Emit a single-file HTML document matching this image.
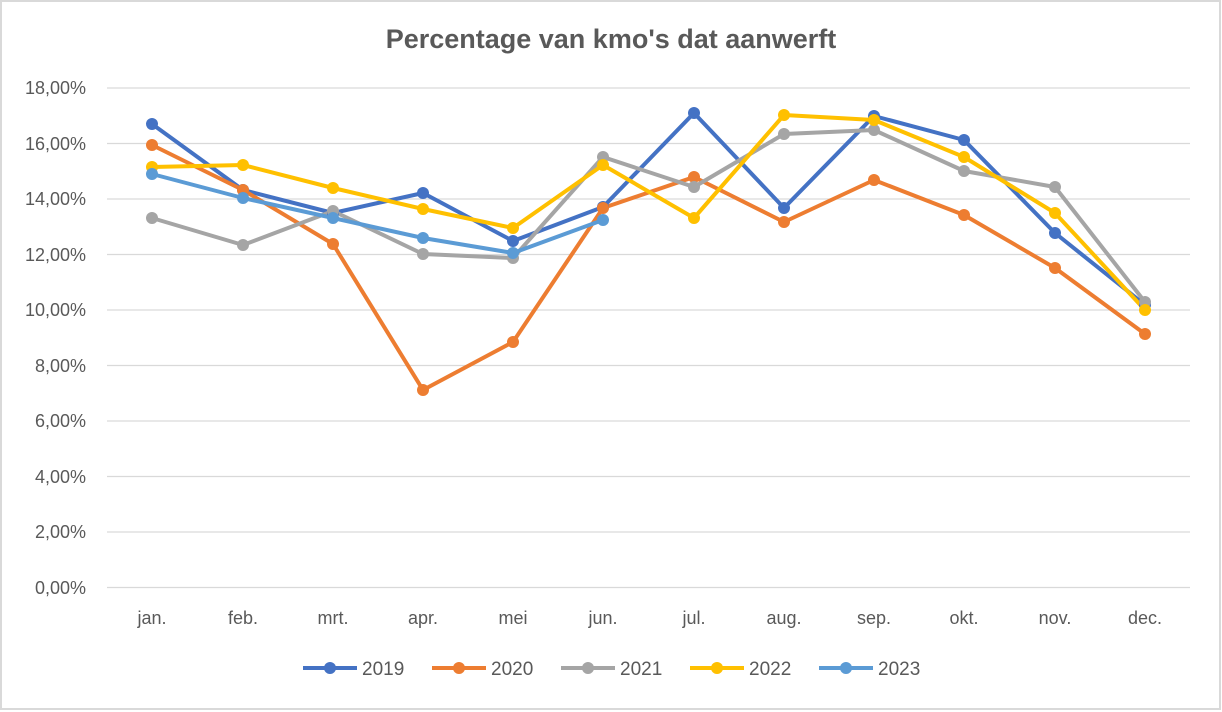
<!DOCTYPE html>
<html><head><meta charset="utf-8"><style>
html,body{margin:0;padding:0;background:#fff;}
svg{display:block;font-family:"Liberation Sans",sans-serif;}
</style></head><body>
<svg width="1222" height="712" viewBox="0 0 1222 712">
<rect x="0" y="0" width="1222" height="712" fill="#fff"/>
<rect x="1" y="1" width="1219" height="708" fill="none" stroke="#d9d9d9" stroke-width="2"/>
<text x="611" y="48" text-anchor="middle" font-size="27" font-weight="bold" fill="#595959">Percentage van kmo's dat aanwerft</text>
<g stroke="#d9d9d9" stroke-width="1.3">
<line x1="107" x2="1190" y1="88" y2="88"/><line x1="107" x2="1190" y1="143.5" y2="143.5"/>
<line x1="107" x2="1190" y1="199" y2="199"/><line x1="107" x2="1190" y1="254.5" y2="254.5"/>
<line x1="107" x2="1190" y1="310" y2="310"/><line x1="107" x2="1190" y1="365.5" y2="365.5"/>
<line x1="107" x2="1190" y1="421" y2="421"/><line x1="107" x2="1190" y1="476.5" y2="476.5"/>
<line x1="107" x2="1190" y1="532" y2="532"/><line x1="107" x2="1190" y1="587.5" y2="587.5"/>
</g>
<g font-size="18" fill="#595959" text-anchor="end">
<text x="86" y="94">18,00%</text><text x="86" y="150">16,00%</text><text x="86" y="205">14,00%</text>
<text x="86" y="261">12,00%</text><text x="86" y="316">10,00%</text><text x="86" y="372">8,00%</text>
<text x="86" y="427">6,00%</text><text x="86" y="483">4,00%</text><text x="86" y="538">2,00%</text>
<text x="86" y="594">0,00%</text>
</g>
<g font-size="18" fill="#595959" text-anchor="middle">
<text x="152" y="624">jan.</text><text x="243" y="624">feb.</text><text x="333" y="624">mrt.</text>
<text x="423" y="624">apr.</text><text x="513" y="624">mei</text><text x="603" y="624">jun.</text>
<text x="694" y="624">jul.</text><text x="784" y="624">aug.</text><text x="874" y="624">sep.</text>
<text x="964" y="624">okt.</text><text x="1055" y="624">nov.</text><text x="1145" y="624">dec.</text>
</g>
<g fill="none" stroke-width="4" stroke-linejoin="round">
<polyline stroke="#4472C4" points="152,124 243,190 333,213 423,193 513,241 603,207 694,113 784,208 874,116 964,140 1055,233 1145,305"/>
<polyline stroke="#ED7D31" points="152,145 243,190 333,244 423,390 513,342 603,208 694,177 784,222 874,180 964,215 1055,268 1145,334"/>
<polyline stroke="#A5A5A5" points="152,218 243,245 333,211 423,254 513,258 603,157 694,187 784,134 874,130 964,171 1055,187 1145,302"/>
<polyline stroke="#FFC000" points="152,167 243,165 333,188 423,209 513,228 603,165 694,218 784,115 874,120 964,157 1055,213 1145,310"/>
<polyline stroke="#5B9BD5" points="152,174 243,198 333,218 423,238 513,253 603,220"/>
</g>
<g fill="#4472C4"><circle cx="152" cy="124" r="6"/><circle cx="243" cy="190" r="6"/><circle cx="333" cy="213" r="6"/><circle cx="423" cy="193" r="6"/><circle cx="513" cy="241" r="6"/><circle cx="603" cy="207" r="6"/><circle cx="694" cy="113" r="6"/><circle cx="784" cy="208" r="6"/><circle cx="874" cy="116" r="6"/><circle cx="964" cy="140" r="6"/><circle cx="1055" cy="233" r="6"/><circle cx="1145" cy="305" r="6"/></g>
<g fill="#ED7D31"><circle cx="152" cy="145" r="6"/><circle cx="243" cy="190" r="6"/><circle cx="333" cy="244" r="6"/><circle cx="423" cy="390" r="6"/><circle cx="513" cy="342" r="6"/><circle cx="603" cy="208" r="6"/><circle cx="694" cy="177" r="6"/><circle cx="784" cy="222" r="6"/><circle cx="874" cy="180" r="6"/><circle cx="964" cy="215" r="6"/><circle cx="1055" cy="268" r="6"/><circle cx="1145" cy="334" r="6"/></g>
<g fill="#A5A5A5"><circle cx="152" cy="218" r="6"/><circle cx="243" cy="245" r="6"/><circle cx="333" cy="211" r="6"/><circle cx="423" cy="254" r="6"/><circle cx="513" cy="258" r="6"/><circle cx="603" cy="157" r="6"/><circle cx="694" cy="187" r="6"/><circle cx="784" cy="134" r="6"/><circle cx="874" cy="130" r="6"/><circle cx="964" cy="171" r="6"/><circle cx="1055" cy="187" r="6"/><circle cx="1145" cy="302" r="6"/></g>
<g fill="#FFC000"><circle cx="152" cy="167" r="6"/><circle cx="243" cy="165" r="6"/><circle cx="333" cy="188" r="6"/><circle cx="423" cy="209" r="6"/><circle cx="513" cy="228" r="6"/><circle cx="603" cy="165" r="6"/><circle cx="694" cy="218" r="6"/><circle cx="784" cy="115" r="6"/><circle cx="874" cy="120" r="6"/><circle cx="964" cy="157" r="6"/><circle cx="1055" cy="213" r="6"/><circle cx="1145" cy="310" r="6"/></g>
<g fill="#5B9BD5"><circle cx="152" cy="174" r="6"/><circle cx="243" cy="198" r="6"/><circle cx="333" cy="218" r="6"/><circle cx="423" cy="238" r="6"/><circle cx="513" cy="253" r="6"/><circle cx="603" cy="220" r="6"/></g>
<g font-size="19" fill="#595959" stroke-width="4">
<line x1="303" x2="357" y1="668" y2="668" stroke="#4472C4"/><circle cx="330" cy="668" r="6" fill="#4472C4"/><text x="362" y="675">2019</text>
<line x1="432" x2="486" y1="668" y2="668" stroke="#ED7D31"/><circle cx="459" cy="668" r="6" fill="#ED7D31"/><text x="491" y="675">2020</text>
<line x1="561" x2="615" y1="668" y2="668" stroke="#A5A5A5"/><circle cx="588" cy="668" r="6" fill="#A5A5A5"/><text x="620" y="675">2021</text>
<line x1="690" x2="744" y1="668" y2="668" stroke="#FFC000"/><circle cx="717" cy="668" r="6" fill="#FFC000"/><text x="749" y="675">2022</text>
<line x1="819" x2="873" y1="668" y2="668" stroke="#5B9BD5"/><circle cx="846" cy="668" r="6" fill="#5B9BD5"/><text x="878" y="675">2023</text>
</g>
</svg>
</body></html>
